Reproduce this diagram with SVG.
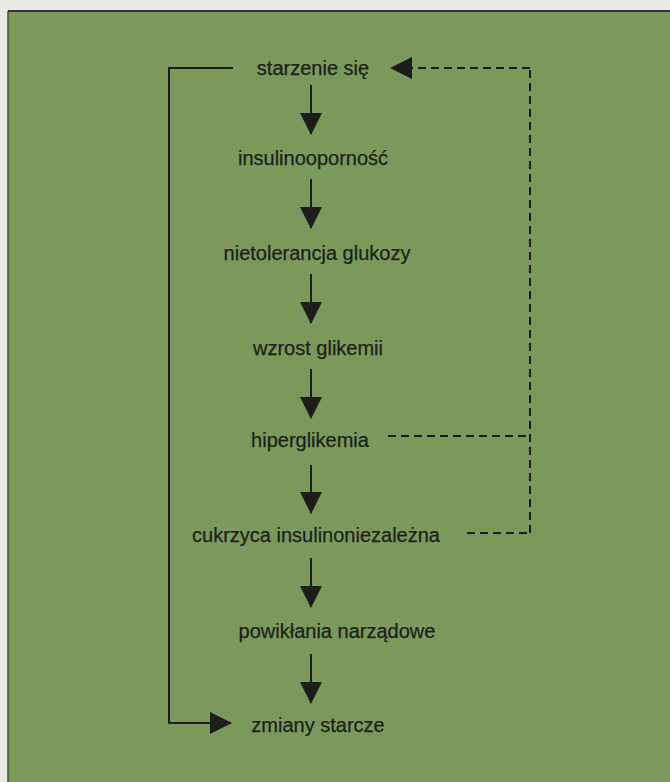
<svg xmlns="http://www.w3.org/2000/svg" width="670" height="782" viewBox="0 0 670 782">
  <defs>
    <marker id="head" viewBox="0 0 22 22" refX="21" refY="11" markerWidth="22" markerHeight="22" markerUnits="userSpaceOnUse" orient="auto">
      <path d="M0,0 L22,11 L0,22 Z" fill="#1c1c1a"/>
    </marker>
  </defs>
  <style>
    .lbl { font-family: "Liberation Sans", Arial, sans-serif; font-size: 20px; fill: #1e1f1a; stroke: #1e1f1a; stroke-width: 0.25; text-anchor: middle; }
    .flow { stroke: #1c1c1a; stroke-width: 2; fill: none; }
    .dash { stroke: #1c1c1a; stroke-width: 2; fill: none; stroke-dasharray: 8 5; }
  </style>

  <!-- page and panel -->
  <rect x="0" y="0" width="670" height="782" fill="#e8e8e5"/>
  <rect x="8" y="11" width="662" height="771" fill="#7a995a"/>
  <line x1="8" y1="11" x2="670" y2="11" stroke="#3b3230" stroke-width="2"/>
  <line x1="8" y1="11" x2="8" y2="782" stroke="#4a4a44" stroke-width="1.5"/>

  <!-- nodes -->
  <g id="n1"><text class="lbl" x="313" y="75">starzenie się</text></g>
  <g id="n2"><text class="lbl" x="313" y="165">insulinooporność</text></g>
  <g id="n3"><text class="lbl" x="317" y="260">nietolerancja glukozy</text></g>
  <g id="n4"><text class="lbl" x="318" y="355">wzrost glikemii</text></g>
  <g id="n5"><text class="lbl" x="310" y="447">hiperglikemia</text></g>
  <g id="n6"><text class="lbl" x="316" y="542">cukrzyca insulinoniezależna</text></g>
  <g id="n7"><text class="lbl" x="337" y="638">powikłania narządowe</text></g>
  <g id="n8"><text class="lbl" x="318" y="732">zmiany starcze</text></g>

  <!-- connectors -->
  <g id="connectors">
    <line class="flow" x1="311" y1="85" x2="311" y2="134" marker-end="url(#head)"/>
    <line class="flow" x1="311" y1="179" x2="311" y2="228" marker-end="url(#head)"/>
    <line class="flow" x1="311" y1="274" x2="311" y2="323" marker-end="url(#head)"/>
    <line class="flow" x1="311" y1="369" x2="311" y2="418" marker-end="url(#head)"/>
    <line class="flow" x1="311" y1="465" x2="311" y2="513" marker-end="url(#head)"/>
    <line class="flow" x1="311" y1="558" x2="311" y2="607" marker-end="url(#head)"/>
    <line class="flow" x1="311" y1="654" x2="311" y2="703" marker-end="url(#head)"/>

    <!-- long loop on the left -->
    <polyline class="flow" points="233,68 169,68 169,723 231,723" marker-end="url(#head)"/>

    <!-- dashed feedback on the right -->
    <line class="dash" x1="388" y1="436" x2="530" y2="436"/>
    <line class="dash" x1="467" y1="533" x2="530" y2="533"/>
    <line class="dash" x1="530" y1="533" x2="530" y2="68"/>
    <line class="dash" x1="530" y1="68" x2="391" y2="68" marker-end="url(#head)"/>
  </g>
</svg>
